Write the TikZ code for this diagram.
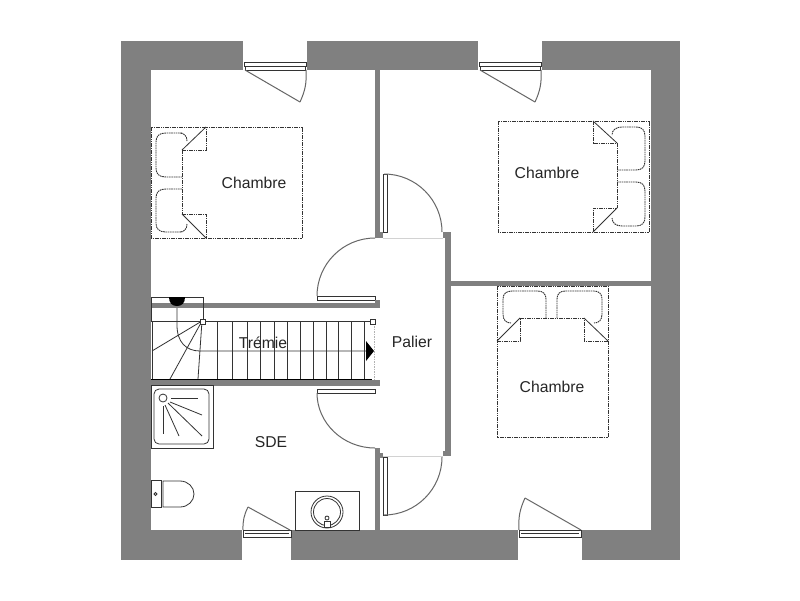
\documentclass[tikz,border=0pt]{standalone}
\usepackage{fontspec}
\setmainfont{Liberation Sans}
\definecolor{wallgray}{HTML}{808080}
\definecolor{linegray}{HTML}{333333}
\tikzset{
  wall/.style={fill=wallgray,draw=none},
  gap/.style={fill=white,draw=none},
  trait/.style={draw=linegray,line width=1pt},
  fin/.style={draw=linegray,line width=0.8pt},
  battant/.style={draw=wallgray!80!black,line width=1pt},
  lit/.style={draw=linegray,line width=0.9pt,dash pattern=on 1.6pt off 0.7pt},
  piece/.style={font=\fontsize{15.7}{18}\selectfont,text=black!85,inner sep=0pt}
}
\begin{document}
\begin{tikzpicture}[x=1pt,y=-1pt]
  \useasboundingbox[fill=white] (0,0) rectangle (800,600);
  % gros murs
  \fill[wall] (121,41) rectangle (680,560);
  \fill[white] (151,70) rectangle (651,530);
  \fill[gap] (243,41) rectangle (307,70);
  \fill[gap] (478,41) rectangle (542,70);
  \fill[gap] (242,530) rectangle (291,560);
  \fill[gap] (518,530) rectangle (582,560);
  % cloisons
  \fill[wall] (375,70) rectangle (380,238);
  \fill[wall] (380,232) rectangle (383,238);
  \fill[wall] (375,448) rectangle (380,530);
  \fill[wall] (380,453) rectangle (383,458);
  \fill[wall] (445,232) rectangle (451,456);
  \fill[wall] (443,232) rectangle (445,238);
  \fill[wall] (443,451) rectangle (445,456);
  \fill[wall] (451,281) rectangle (651,286);
  % seuils
  \draw[gray!35,line width=0.5pt] (383,238)--(443,238);
  \draw[gray!35,line width=0.5pt] (383,456)--(443,456);
  % fenetres haut
  \foreach \x in {243,478}{
    \draw[fin,fill=white] (\x+1,62) rectangle (\x+63,66);
    \draw[fin,fill=white] (\x+2,66) rectangle (\x+62,70);
    \draw[battant] (\x+2,70)--(\x+57,102);
    \draw[battant] (\x+57,102) to[bend right=14] (\x+63,70);
  }
  % fenetres bas
  \draw[fin,fill=white] (243,530) rectangle (291,537);
  \draw[fin] (245,533)--(289,533);
  \draw[battant] (290,530)--(248,507);
  \draw[battant] (248,507) to[bend right=14] (243,530);
  \draw[fin,fill=white] (519,530) rectangle (581,537);
  \draw[fin] (521,533)--(579,533);
  \draw[battant] (581,530)--(525,498);
  \draw[battant] (525,498) to[bend right=14] (519,530);
  % portes
  \draw[fin,fill=white] (383,174) rectangle (387,232);
  \draw[battant] (384,174) .. controls (416,174) and (442,200) .. (442,232);
  \draw[fin,fill=white] (383,457) rectangle (387,515);
  \draw[battant] (384,515) .. controls (416,515) and (442,489) .. (442,457);
  \draw[fin,fill=white] (317,296) rectangle (375,300);
  \draw[battant] (375,238) .. controls (343,238) and (317,264) .. (317,296);
  \draw[fin,fill=white] (317,389) rectangle (375,393);
  \draw[battant] (375,448) .. controls (343,448) and (317,423) .. (317,393);
  % lits
  \draw[lit] (151,127) rectangle (302,238);
  \draw[lit] (182,150)--(182,214);
  \draw[lit] (182,150)--(206,150)--(206,127);
  \draw[fin] (182,150)--(206,127);
  \draw[lit] (182,214)--(206,214)--(206,238);
  \draw[fin] (182,214)--(206,238);
  \draw[lit] (182,133)--(166,133) .. controls (159,133) and (156,136) .. (156,142)--(156,168) .. controls (156,174) and (159,177) .. (166,177)--(182,177);
  \draw[lit] (182,189)--(166,189) .. controls (159,189) and (156,192) .. (156,198)--(156,223) .. controls (156,229) and (159,232) .. (166,232)--(182,232);
  \draw[lit] (187,141) .. controls (187,136) and (184,133) .. (180,133);
  \draw[lit] (187,224) .. controls (187,229) and (184,232) .. (180,232);
  \draw[lit] (498,121) rectangle (649,232);
  \draw[lit] (617,143)--(617,208);
  \draw[lit] (593,121)--(593,143)--(617,143);
  \draw[fin] (593,121)--(617,143);
  \draw[lit] (593,232)--(593,208)--(617,208);
  \draw[fin] (593,232)--(617,208);
  \draw[lit] (617,170)--(636,170) .. controls (642,170) and (645,167) .. (645,161)--(645,136) .. controls (645,130) and (642,127) .. (636,127)--(622,127) .. controls (616,127) and (612,130) .. (612,135);
  \draw[lit] (617,182)--(636,182) .. controls (642,182) and (645,185) .. (645,191)--(645,217) .. controls (645,223) and (642,226) .. (636,226)--(622,226) .. controls (616,226) and (612,223) .. (612,218);
  \draw[lit] (497,286) rectangle (608,437);
  \draw[lit] (520,318)--(584,318);
  \draw[lit] (497,341)--(520,341)--(520,318);
  \draw[fin] (497,341)--(520,318);
  \draw[lit] (608,341)--(584,341)--(584,318);
  \draw[fin] (608,341)--(584,318);
  \draw[lit] (546,318)--(546,299) .. controls (546,294) and (543,291) .. (538,291)--(512,291) .. controls (506,291) and (503,294) .. (503,299)--(503,314) .. controls (503,320) and (506,323) .. (511,323);
  \draw[lit] (557,318)--(557,299) .. controls (557,294) and (560,291) .. (565,291)--(594,291) .. controls (599,291) and (602,294) .. (602,299)--(602,314) .. controls (602,320) and (599,323) .. (594,323);
  % escalier
  \draw[fin] (152,321)--(372,321);
  \draw[fin] (152,321)--(152,379);
  \foreach \x in {217,232,247,260,274,287,300,313,326,338,351,364}
    \draw[fin] (\x,321)--(\x,379);
  \draw[gray!60,line width=0.6pt,dash pattern=on 1.5pt off 1pt] (374,321)--(374,380);
  \draw[fin] (202,321)--(152,351);
  \draw[fin] (202,321)--(170,379);
  \draw[fin] (202,321)--(198,379);
  \draw[fin] (177,306)--(177,325) .. controls (177,342) and (186,351) .. (200,351)--(366,351);
  \fill[wall] (151,303) rectangle (375,308);
  \fill[wall] (375,300) rectangle (380,308);
  \fill[wall] (151,380) rectangle (380,386);
  \draw[fin] (151,297) rectangle (203,321);
  \fill[black] (169,297) .. controls (169,303) and (172,306) .. (177,306) .. controls (182,306) and (185,303) .. (185,297)--cycle;
  \fill[black] (366,341)--(374,351)--(366,361)--cycle;
  \draw[fin,fill=white] (200,319) rectangle (205,324);
  \draw[fin,fill=white] (370,319) rectangle (375,324);
  \draw[black,line width=1pt] (151,379.5)--(372,379.5);
  % douche
  \draw[trait,fill=white] (151,385) rectangle (213,448);
  \draw[fin,rounded corners=5pt] (154,389) rectangle (209,444);
  \draw[fin] (163,398) circle (4);
  \draw[fin] (171,398)--(198,398);
  \draw[fin] (170,402)--(202,415);
  \draw[fin] (168,403)--(202,436);
  \draw[fin] (165,405)--(179,436);
  \draw[fin] (163,406)--(163,434);
  % wc
  \draw[fin] (151,480) rectangle (161,507);
  \draw[fin] (155.5,494) circle (1.5);
  \draw[fin] (163,481)--(180,481) .. controls (188,481) and (194,487) .. (194,494) .. controls (194,501) and (188,507) .. (180,507)--(163,507)--cycle;
  % lavabo
  \draw[trait,fill=white] (295,491) rectangle (359,530);
  \draw[fin] (327,512) circle (16);
  \draw[fin] (327,512) circle (13.5);
  \draw[fin,fill=white] (327,518) circle (2);
  \draw[fin,fill=white] (324,521) rectangle (330,527);
  % textes
  \node[piece] (chambreA) at (254,183) {Chambre};
  \node[piece] (chambreB) at (547,173) {Chambre};
  \node[piece] (chambreC) at (552,387) {Chambre};
  \node[piece] (tremie) at (263,343) {Trémie};
  \node[piece] (palier) at (412,342) {Palier};
  \node[piece] (sde) at (271,442) {SDE};
\end{tikzpicture}
\end{document}
